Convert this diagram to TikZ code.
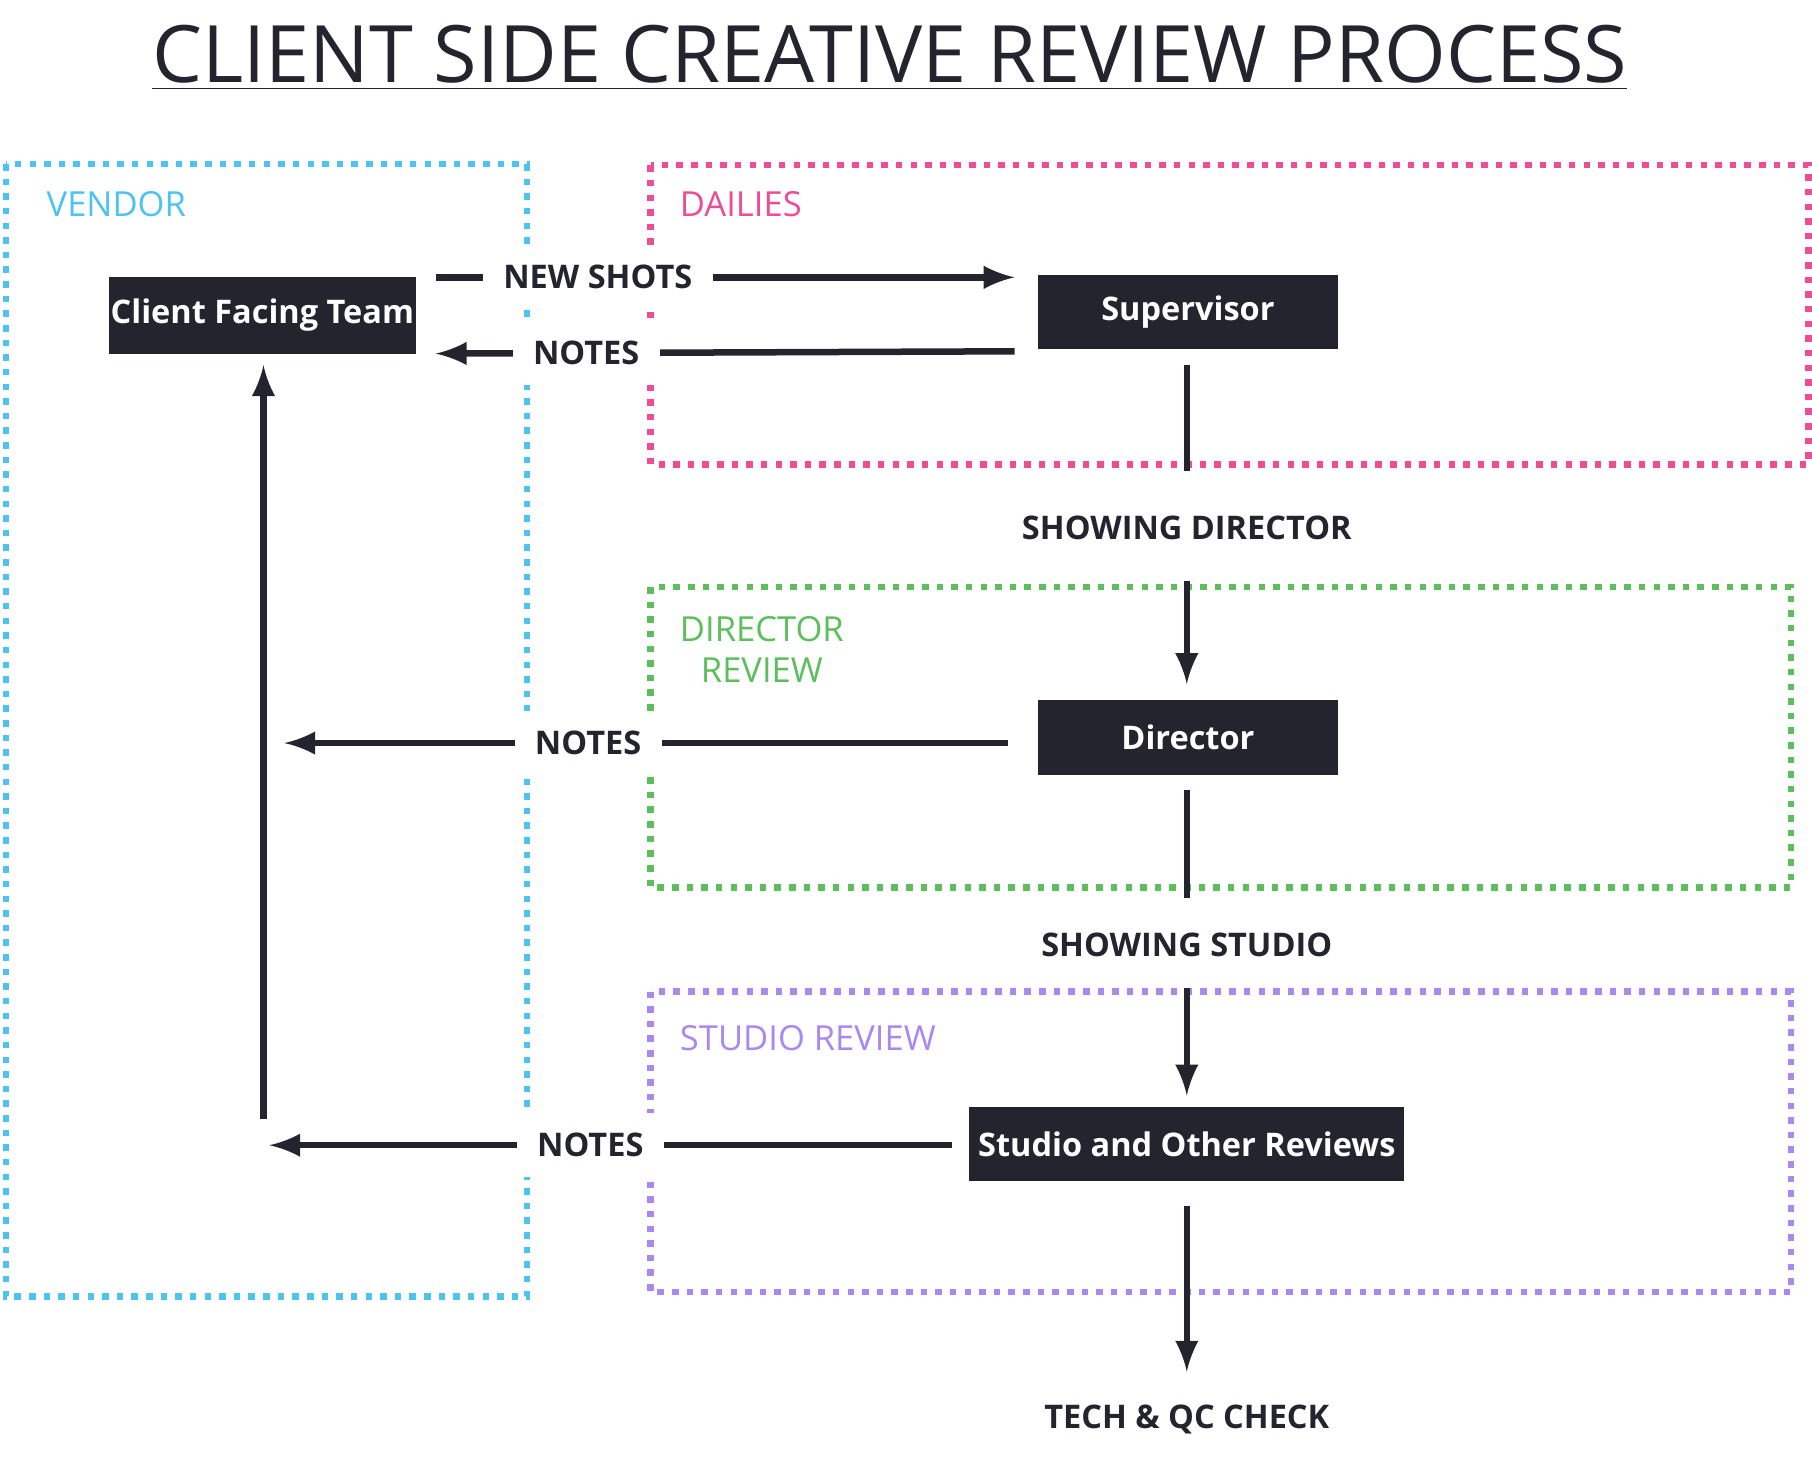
\documentclass[tikz,border=0pt]{standalone}
\usepackage{fontspec}
\setmainfont{Open Sans}
\usetikzlibrary{positioning}
\definecolor{boxdark}{HTML}{23242D}
\definecolor{vendorc}{HTML}{4DC3F2}
\definecolor{dailiesc}{HTML}{EE4C96}
\definecolor{directorc}{HTML}{5CBF5C}
\definecolor{studioc}{HTML}{AA88F0}
\begin{document}
\begin{tikzpicture}[x=0.01cm,y=-0.01cm,>=latex,
    every node/.style={font=\fontsize{8.5}{10}\selectfont},
    stage/.style={fill=boxdark,text=white,font=\fontsize{8}{10}\selectfont\bfseries,inner sep=0pt},
    lbl/.style={fill=white,text=boxdark,font=\fontsize{8}{10}\selectfont\bfseries,inner sep=5pt},
    group/.style={dotted,line width=1.6pt},
    flow/.style={draw=boxdark,line width=1.6pt}]
  \useasboundingbox (0,0) rectangle (1568,1270);
  % groups
  \draw[group,vendorc] (5,142) rectangle (456,1122);
  \draw[group,dailiesc] (563,143) rectangle (1565,402);
  \draw[group,directorc] (563,508) rectangle (1550,768);
  \draw[group,studioc] (563,858) rectangle (1550,1118);
  \node[anchor=west,text=vendorc] at (28,177) {VENDOR};
  \node[anchor=west,text=dailiesc] at (576,177) {DAILIES};
  \node[anchor=west,text=directorc,align=center] at (576,562) {DIRECTOR\\REVIEW};
  \node[anchor=west,text=studioc] at (576,898) {STUDIO REVIEW};
  % title
  \node[font=\fontsize{19.5}{24}\selectfont,text=boxdark] (title) at (770,50) {\underline{CLIENT SIDE CREATIVE REVIEW PROCESS}};
  % stages
  \node[stage,minimum width=2.65cm,minimum height=0.66cm] (client) at (227,273) {Client Facing Team};
  \node[stage,minimum width=2.6cm,minimum height=0.64cm] (sup) at (1028,270) {Supervisor};
  \node[stage,minimum width=2.6cm,minimum height=0.65cm] (dir) at (1028,638) {Director};
  \node[stage,minimum width=3.76cm,minimum height=0.64cm] (studio) at (1027,990) {Studio and Other Reviews};
  % free ends
  \coordinate (nsA) at (377,240); \coordinate (nsB) at (878,240);
  \coordinate (n1A) at (878,304); \coordinate (n1B) at (377,306);
  \coordinate (n2A) at (872,643); \coordinate (n2B) at (246,643);
  \coordinate (n3A) at (824,991); \coordinate (n3B) at (233,991);
  \coordinate (upA) at (228,968); \coordinate (upB) at (228,316);
  \coordinate (d1A) at (1027,316); \coordinate (d1B) at (1027,408);
  \coordinate (d2A) at (1027,503); \coordinate (d2B) at (1027,592);
  \coordinate (d3A) at (1027,684); \coordinate (d3B) at (1027,777);
  \coordinate (d4A) at (1027,855); \coordinate (d4B) at (1027,948);
  \coordinate (d5A) at (1027,1044); \coordinate (d5B) at (1027,1187);
  % connectors
  \draw[flow,->] (nsA) -- node[lbl,pos=0.28] {NEW SHOTS} (nsB);
  \draw[flow,->] (n1A) -- node[lbl,pos=0.74] {NOTES} (n1B);
  \draw[flow,->] (n2A) -- node[lbl,pos=0.58] {NOTES} (n2B);
  \draw[flow,->] (n3A) -- node[lbl,pos=0.53] {NOTES} (n3B);
  \draw[flow,->] (upA) -- (upB);
  \draw[flow] (d1A) -- (d1B);
  \node[lbl] (showdir) at (1027,457) {SHOWING DIRECTOR};
  \draw[flow,->] (d2A) -- (d2B);
  \draw[flow] (d3A) -- (d3B);
  \node[lbl] (showstu) at (1027,818) {SHOWING STUDIO};
  \draw[flow,->] (d4A) -- (d4B);
  \draw[flow,->] (d5A) -- (d5B);
  \node[lbl] (tech) at (1027,1228) {TECH \& QC CHECK};
\end{tikzpicture}
\end{document}
